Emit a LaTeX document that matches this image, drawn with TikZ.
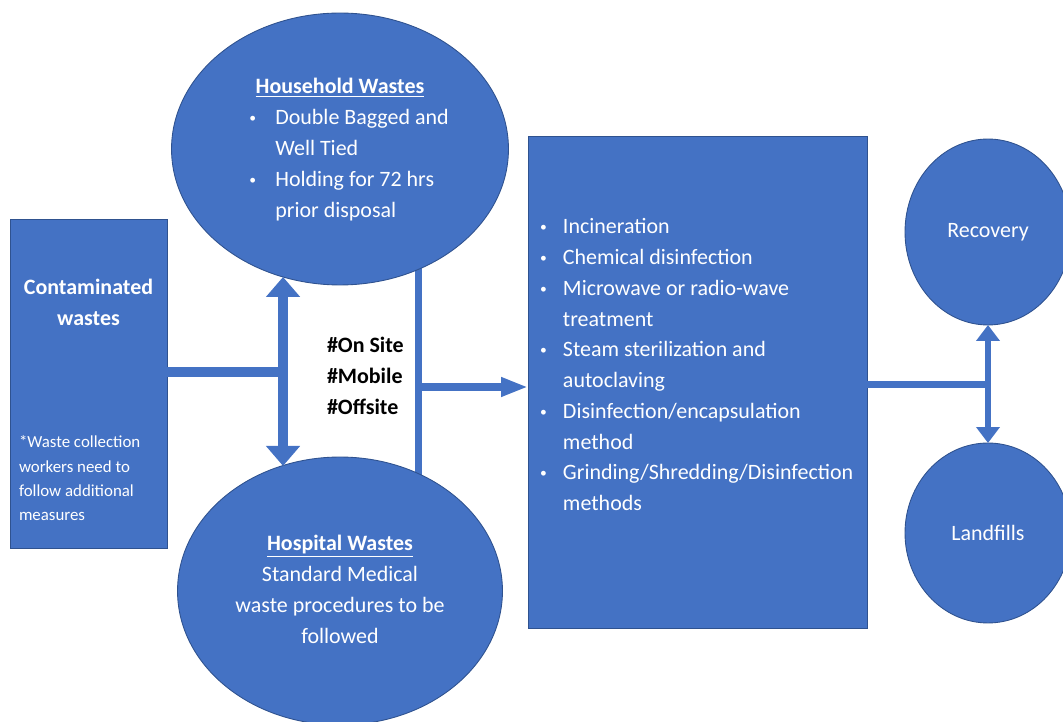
\documentclass[tikz,border=0pt]{standalone}
\usepackage{fontspec}
\usepackage{graphicx}
\setmainfont{Carlito}
\usetikzlibrary{shapes.geometric, arrows.meta, backgrounds}

\definecolor{wasteblue}{HTML}{4472C4}
\definecolor{wasteline}{HTML}{2F528F}

\newcommand\setstrut{\setbox\strutbox\hbox{\vrule height.7\baselineskip depth.3\baselineskip width0pt}}
\newcommand\mainsize{\fontsize{12.5}{17.6}\selectfont\setstrut}
\newcommand\notesize{\fontsize{9.6}{13.7}\selectfont\setstrut}
\newcommand\dotmark{\raisebox{0.2ex}{\scalebox{0.62}{\textbullet}}}

\begin{document}
\begin{tikzpicture}[x=0.02cm, y=-0.02cm]
\tikzset{ inner sep=0pt, outer sep=0pt,
  block/.style={rectangle, fill=wasteblue, draw=wasteline, line width=0.5pt},
  blob/.style={ellipse, fill=wasteblue, draw=wasteline, line width=0.5pt, text=white, font=\mainsize},
  wtext/.style={text=white, font=\mainsize},
  bus/.style={wasteblue, line width=#1},
  dblarrow/.style={wasteblue, line width=0.2cm, {Triangle[width=0.66cm,length=0.4cm]}-{Triangle[width=0.66cm,length=0.4cm]}},
  dblsmall/.style={wasteblue, line width=0.12cm, {Triangle[width=0.46cm,length=0.32cm]}-{Triangle[width=0.46cm,length=0.32cm]}},
  feed/.style={wasteblue, line width=0.16cm, -{Triangle[width=0.36cm,length=0.54cm]}},
}

\useasboundingbox (0,0) rectangle (1063,722);
\clip (0,0) rectangle (1063,722);

%%% Blocks

% Contaminated wastes
\node[block, minimum width=3.14cm, minimum height=6.58cm] (contam) at (88.5,383.5) { };
\node[wtext, anchor=base, font=\mainsize\bfseries] (contamHead) at (88.5,295)
  {\begin{tabular}[t]{@{}c@{}}Contaminated\\ wastes\end{tabular}};
\node[wtext, anchor=base west, font=\notesize] (contamNote) at (19,448)
  {\begin{tabular}[t]{@{}l@{}}*Waste collection\\ workers need to\\ follow additional\\ measures\end{tabular}};

% Household wastes
\node[blob, minimum width=6.74cm, minimum height=5.44cm] (household) at (340,149)
  {\begin{tabular}{@{\hspace{0.36cm}}p{0.52cm}@{}l@{}}
   \multicolumn{2}{@{}c@{}}{\textbf{\underline{Household Wastes}}}\\
   \dotmark & Double Bagged and\\
            & Well Tied\\
   \dotmark & Holding for 72 hrs\\
            & prior disposal
   \end{tabular}};

% Hospital wastes
\node[blob, minimum width=6.5cm, minimum height=5.36cm] (hospital) at (340,591)
  {\begin{tabular}{@{}c@{}}
   \textbf{\underline{Hospital Wastes}}\\
   Standard Medical\\
   waste procedures to be\\
   followed
   \end{tabular}};

% Site label
\node[anchor=base west, font=\mainsize\bfseries] (siteLabel) at (327,353)
  {\begin{tabular}[t]{@{}l@{}}\#On Site\\ \#Mobile\\ \#Offsite\end{tabular}};

% Treatment methods
\node[block, minimum width=6.78cm, minimum height=9.84cm] (treat) at (697.5,382) { };
\node[wtext, anchor=base west, font=\fontsize{12.5}{17.5}\selectfont\setstrut] (treatList) at (540,234)
  {\begin{tabular}[t]{@{}p{0.46cm}@{}l@{}}
   \dotmark & Incineration\\
   \dotmark & Chemical disinfection\\
   \dotmark & Microwave or radio-wave\\
            & treatment\\
   \dotmark & Steam sterilization and\\
            & autoclaving\\
   \dotmark & Disinfection/encapsulation\\
            & method\\
   \dotmark & Grinding/Shredding/Disinfection\\
            & methods
   \end{tabular}};

% Recovery / Landfills
\node[blob, minimum width=3.32cm, minimum height=3.72cm] (recovery) at (988,232) {Recovery};
\node[blob, minimum width=3.32cm, minimum height=3.6cm] (landfill) at (988,533) {Landfills};

%%% Lines

\coordinate (barL) at (0,372);
\coordinate (barM) at (418,387);
\coordinate (barR) at (988,385);

% contaminated -> household / hospital
\draw[bus=0.2cm] (contam.east |- barL) -- (household.-114 |- barL);
\draw[dblarrow] (household.-114) -- (household.-114 |- hospital.115);

% household / hospital -> treatment
\begin{scope}[on background layer]
\draw[bus=0.14cm] (barM |- household.center) -- (barM |- hospital.center);
\end{scope}
\draw[feed] (barM) -- (barM -| treat.west);

% treatment -> recovery / landfills
\draw[bus=0.14cm] (treat.east |- barR) -- (barR);
\draw[dblsmall] (recovery.south) -- (landfill.north);

\end{tikzpicture}
\end{document}
